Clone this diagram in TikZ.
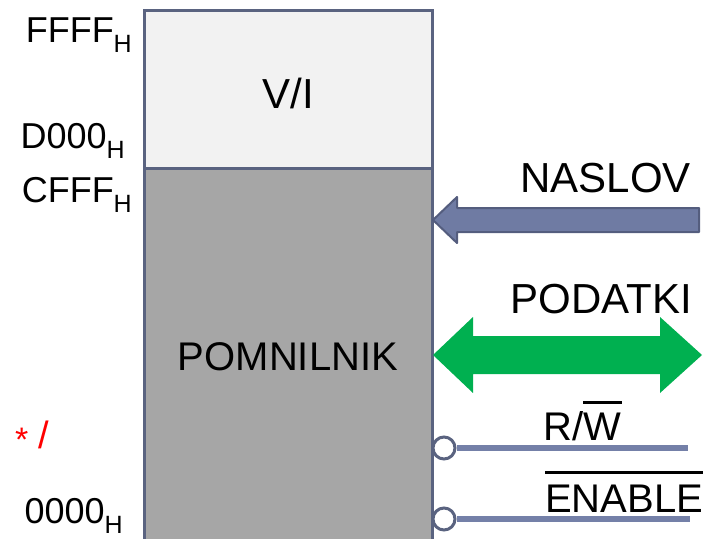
\documentclass[tikz,border=0pt]{standalone}
\usepackage{fontspec}
\setmainfont{Liberation Sans}
\definecolor{edge}{HTML}{5A6380}
\definecolor{toplight}{HTML}{F2F2F2}
\definecolor{memgray}{HTML}{A6A6A6}
\definecolor{arrfill}{HTML}{6F7BA3}
\definecolor{arredge}{HTML}{545D7E}
\definecolor{busgreen}{HTML}{00B050}
\definecolor{sigline}{HTML}{7480A8}
\newcommand\hsub{\raisebox{-10pt}{\fontsize{25}{25}\selectfont H}}
\begin{document}
\begin{tikzpicture}[x=1pt,y=-1pt,
  addr/.style={anchor=base east,inner sep=0pt,font=\fontsize{36}{36}\selectfont},
  big/.style={inner sep=0pt,font=\fontsize{42}{42}\selectfont},
  sig/.style={anchor=base west,inner sep=0pt,font=\fontsize{40}{40}\selectfont},
  blk/.style={draw=edge,line width=3pt},
  bubble/.style={circle,draw=edge,fill=white,line width=3pt,minimum size=22pt,inner sep=0pt},
  wire/.style={draw=sigline,line width=6pt},
  bar/.style={draw=black,line width=3.5pt}]
\useasboundingbox (0,0) rectangle (719,538);
\clip (0,0) rectangle (719,538);
% memory blocks
\draw[blk,fill=toplight] (144,10) rectangle (432,168);
\draw[blk,fill=memgray] (144,168) rectangle (432,560);
\node[big,anchor=base] (vilbl) at (288,108) {V/I};
\node[big,anchor=base,font=\fontsize{40}{40}\selectfont] (memlbl) at (288,370) {POMNILNIK};
% address labels
\node[addr] (a1) at (132,42) {FFFF\hsub};
\node[addr] (a2) at (125,148) {D000\hsub};
\node[addr] (a3) at (132,202) {CFFF\hsub};
\node[addr] (a4) at (123,523) {0000\hsub};
\node[anchor=base west,inner sep=0pt,text=red,font=\fontsize{34}{34}\selectfont] (star) at (15,451) {*};
\node[anchor=base west,inner sep=0pt,text=red,font=\fontsize{38}{38}\selectfont] (slash) at (38,448) {/};
% NASLOV arrow
\node[big,anchor=base east] (naslov) at (691,192) {NASLOV};
\draw[draw=arredge,fill=arrfill,line width=2pt,line join=round]
  (433,220) -- (457,197) -- (457,208) -- (699,208) -- (699,232) -- (457,232) -- (457,243) -- cycle;
% PODATKI arrow
\node[big,anchor=base east] (podatki) at (692,313) {PODATKI};
\fill[busgreen] (433,355) -- (473,317) -- (473,336) -- (660,336) -- (660,317) -- (702,355)
  -- (660,393) -- (660,374) -- (473,374) -- (473,393) -- cycle;
% control signals
\node[bubble] (b1) at (444,448) {};
\coordinate (e1) at (688,448);
\draw[wire] (b1.east) -- (e1);
\node[sig] (rwR) at (543,440) {R/};
\node[sig,anchor=base west] (rwW) at (rwR.base east) {W};
\draw[bar] ([yshift=10pt]rwW.north west) -- ([yshift=10pt]rwW.north east);
\node[bubble] (b2) at (444,519) {};
\coordinate (e2) at (690,519);
\draw[wire] (b2.east) -- (e2);
\node[sig] (en) at (545,512) {ENABLE};
\draw[bar] ([yshift=12pt]en.north west) -- ([yshift=12pt]en.north east);
\end{tikzpicture}
\end{document}
